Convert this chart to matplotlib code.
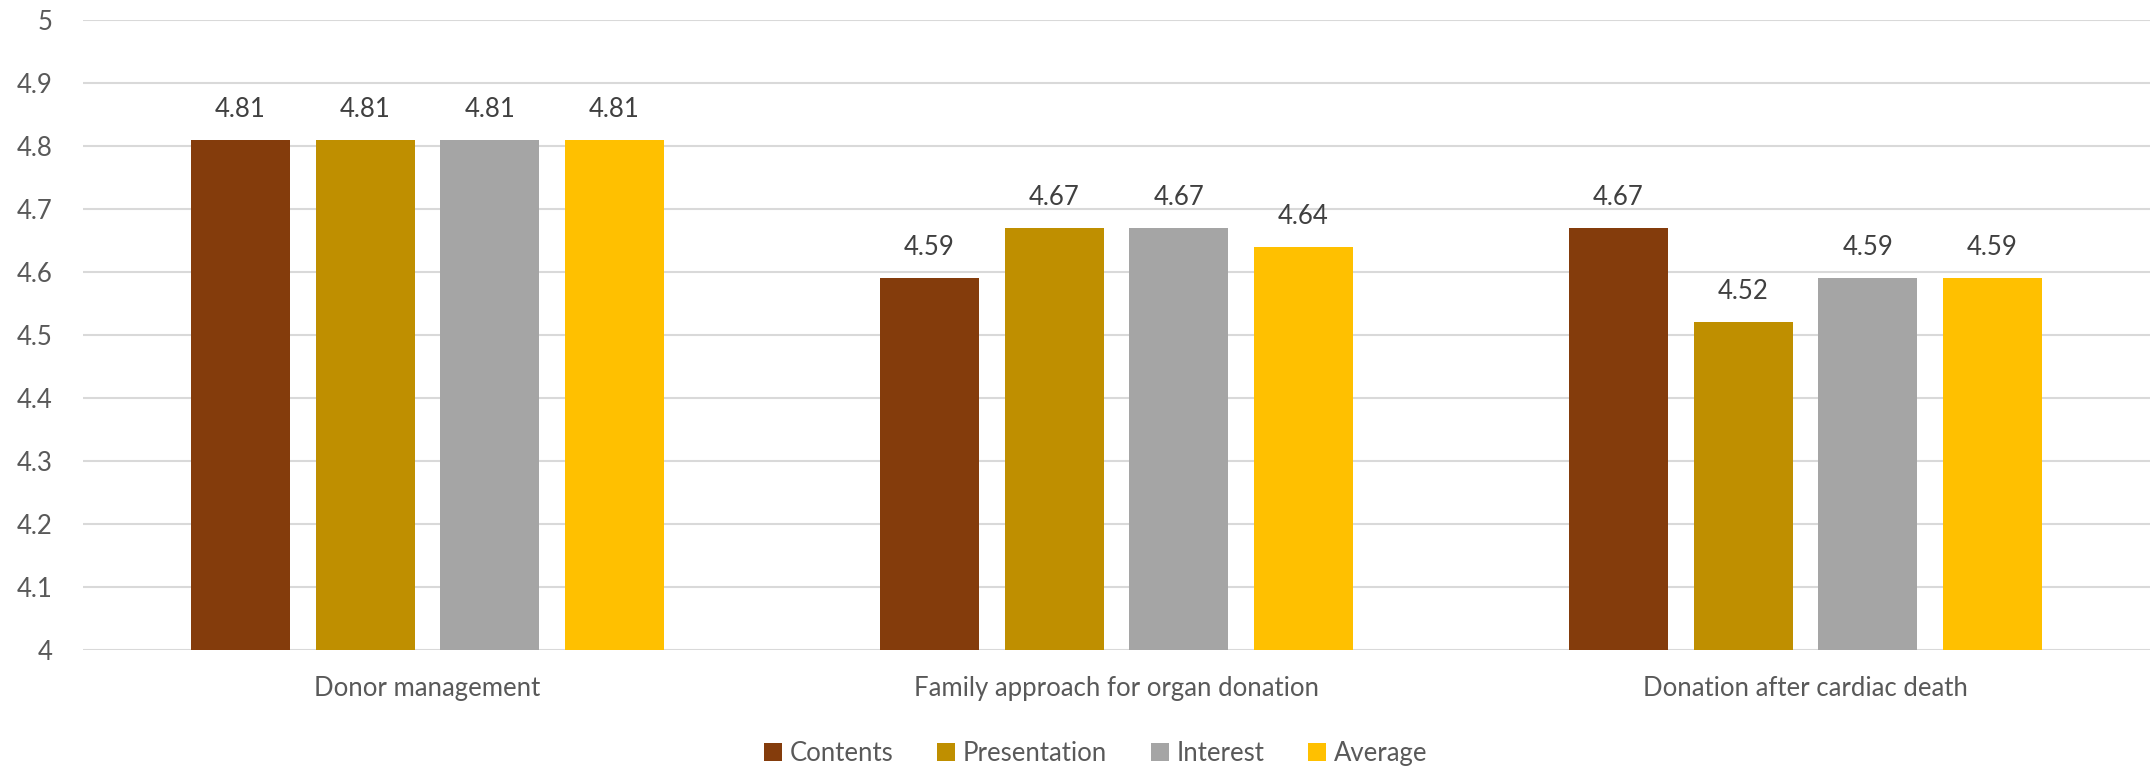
import matplotlib.pyplot as plt
import numpy as np

categorias = ['Donor management', 'Family approach for organ donation', 'Donation after cardiac death']
series = ['Contents', 'Presentation', 'Interest', 'Average']
contents = [4.81, 4.59, 4.67]
presentation = [4.81, 4.67, 4.52]
interest = [4.81, 4.67, 4.59]
average = [4.81, 4.64, 4.59]
colores = ['#843C0C', '#BF8F00', '#A5A5A5', '#FFC000']

plt.rcParams['font.family'] = ['Lato', 'DejaVu Sans']

fig = plt.figure(figsize=(21.55, 7.72), dpi=100)
ax = fig.add_axes([0.0385, 0.158, 0.9592, 0.816])

x = np.arange(len(categorias))
ancho = 0.144
paso = 0.181
valores = [contents, presentation, interest, average]

for i, (nombre, vals, c) in enumerate(zip(series, valores, colores)):
    pos = x + (i - 1.5) * paso
    ax.bar(pos, np.array(vals) - 4, width=ancho, bottom=4, color=c, label=nombre, zorder=3)
    for xb, v in zip(pos, vals):
        ax.annotate(f'{v:.2f}', (xb, v), xytext=(0, 13), textcoords='offset points',
                    ha='center', va='bottom', fontsize=18.5, color='#404040')

ax.set_ylim(4, 5)
ax.set_xlim(-0.5, 2.5)
ax.set_yticks(np.arange(4, 5.01, 0.1))
ax.set_yticklabels(['4', '4.1', '4.2', '4.3', '4.4', '4.5', '4.6', '4.7', '4.8', '4.9', '5'])
ax.set_xticks(x)
ax.set_xticklabels(categorias)
ax.tick_params(axis='y', length=0, pad=22, labelsize=18.5, labelcolor='#595959')
ax.tick_params(axis='x', length=0, pad=19, labelsize=18.5, labelcolor='#595959')
ax.grid(axis='y', color='#D9D9D9', lw=1.5, zorder=0)
for s in ax.spines.values():
    s.set_visible(False)

ax.legend(loc='center', bbox_to_anchor=(0.49, -0.165), ncol=4, frameon=False,
          fontsize=18.5, labelcolor='#595959', handlelength=0.7, handleheight=0.7,
          handletextpad=0.3, columnspacing=1.7)

plt.savefig('out.png', dpi=100)
